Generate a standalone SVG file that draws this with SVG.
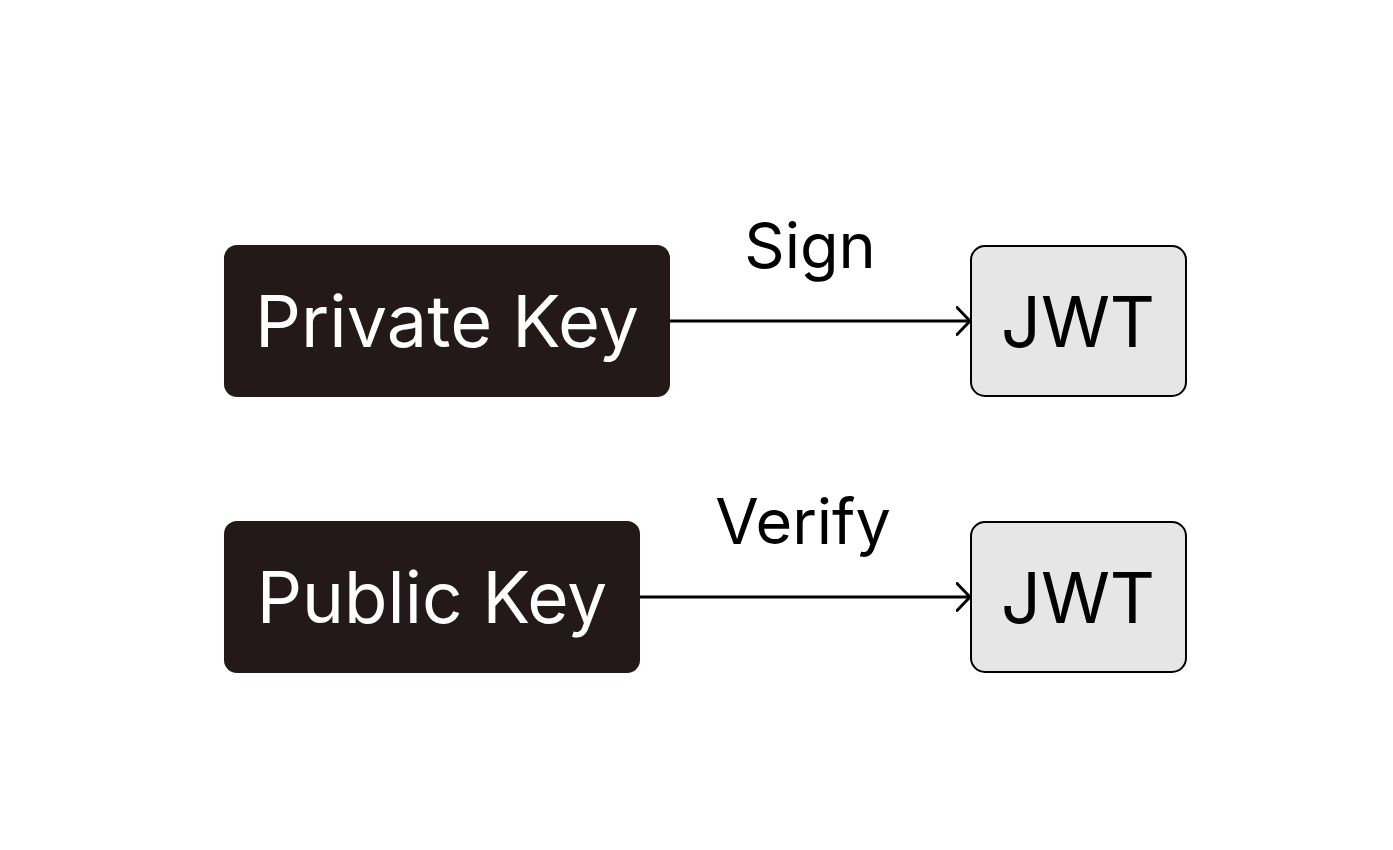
<svg xmlns="http://www.w3.org/2000/svg" width="1393" height="850" viewBox="0 0 1393 850">
<style>
.key{fill:#231918}
.jwt{fill:#e6e6e6;stroke:#000;stroke-width:2}
.t{font-family:Inter,"Noto Sans",sans-serif;font-size:72px;text-anchor:middle}
.w{fill:#fff}
.b{fill:#000;font-size:70px}
.lbl{font-family:Inter,"Noto Sans",sans-serif;font-size:63px;text-anchor:middle;fill:#000}
.edge{stroke:#000;stroke-width:3;fill:none}
</style>
<defs>
<marker id="arr" viewBox="0 0 20 30" refX="14" refY="15" markerWidth="20" markerHeight="30" markerUnits="userSpaceOnUse" orient="auto">
<path d="M1,1.5 L14,15 L1,28.5" fill="none" stroke="#000" stroke-width="3" stroke-linecap="round" stroke-linejoin="round"/>
</marker>
</defs>
<rect width="1393" height="850" fill="#fff"/>
<g id="connectors">
<path class="edge" d="M670,321 H970" marker-end="url(#arr)"/>
<text class="lbl" x="810" y="268">Sign</text>
<path class="edge" d="M639,597 H970" marker-end="url(#arr)"/>
<text class="lbl" x="803" y="544">Verify</text>
</g>
<g id="private-key">
<rect class="key" x="224" y="245" width="446" height="152" rx="13"/>
<text class="t w" x="447" y="347">Private Key</text>
</g>
<g id="jwt1">
<rect class="jwt" x="971" y="246" width="215" height="150" rx="14"/>
<text class="t b" x="1078" y="347">JWT</text>
</g>
<g id="public-key">
<rect class="key" x="224" y="521" width="416" height="152" rx="13"/>
<text class="t w" x="432" y="623" style="font-size:71px">Public Key</text>
</g>
<g id="jwt2">
<rect class="jwt" x="971" y="522" width="215" height="150" rx="14"/>
<text class="t b" x="1078" y="623">JWT</text>
</g>
</svg>
